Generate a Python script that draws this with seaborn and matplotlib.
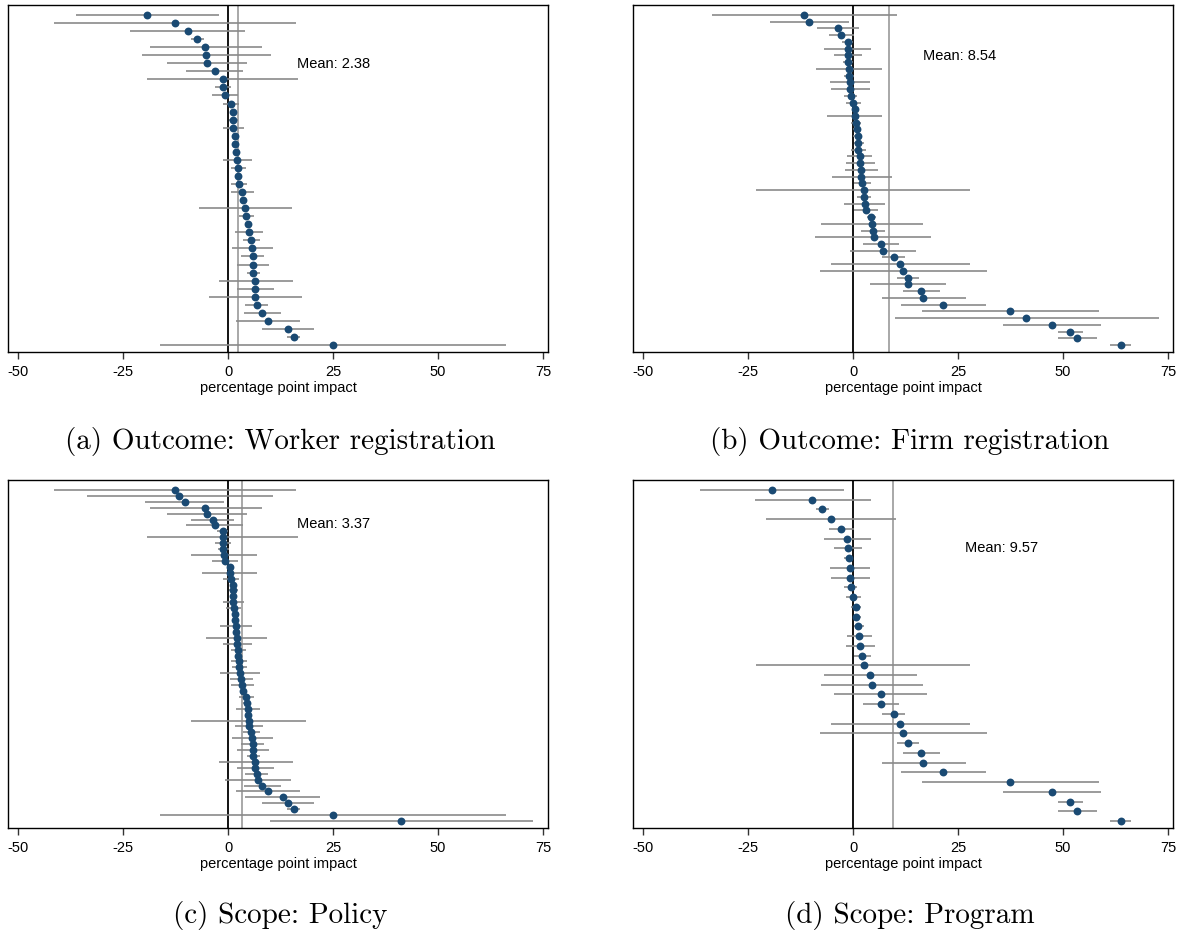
import numpy as np
import pandas as pd
import matplotlib
matplotlib.use("Agg")
import matplotlib.pyplot as plt
import seaborn as sns

# Panel (a): Outcome - worker registration
a_est = [-19.3, -12.7, -9.6, -7.3, -5.4, -5.3, -4.9, -3.1, -1.3, -1.2, -0.7, 0.7, 1.1, 1.2,
         1.3, 1.7, 1.7, 2.0, 2.1, 2.4, 2.4, 2.5, 3.4, 3.6, 4.1, 4.3, 4.8, 5.0, 5.5, 5.7,
         5.9, 6.0, 6.0, 6.5, 6.5, 6.5, 6.9, 8.1, 9.5, 14.2, 15.6, 25.1]
a_lo = [-36.3, -41.5, -23.3, -8.8, -18.7, -20.6, -14.5, -10.0, -19.3, -3.1, -3.9, -1.2, 0.5, 0.2,
        -1.2, 1.0, 1.2, 1.5, -1.3, 0.7, 1.9, 0.7, 0.7, 3.0, -7.0, 2.6, 4.0, 1.7, 3.6, 0.9,
        3.2, 2.2, 4.6, -2.2, 2.2, -4.6, 4.1, 3.7, 1.8, 8.1, 14.1, -16.1]
a_hi = [-2.2, 16.1, 4.1, -5.7, 8.1, 10.3, 4.6, 3.6, 16.7, 0.7, 2.4, 2.5, 1.8, 2.3,
        3.9, 2.3, 2.2, 2.5, 5.7, 4.2, 2.9, 4.5, 6.1, 4.2, 15.2, 6.3, 5.7, 8.4, 7.7, 10.6,
        8.5, 9.8, 7.6, 15.4, 11.0, 17.7, 9.5, 12.7, 17.2, 20.5, 17.2, 66.2]

# Panel (b): Outcome - firm registration
b_est = [-11.6, -10.4, -3.6, -2.8, -1.3, -1.3, -1.2, -1.1, -1.0, -1.0, -0.7, -0.7, -0.6, 0.0,
         0.4, 0.5, 0.7, 0.9, 1.1, 1.2, 1.3, 1.6, 1.7, 1.8, 2.0, 2.2, 2.5, 2.6, 2.8, 3.2,
         4.3, 4.4, 4.7, 4.9, 6.6, 7.1, 9.7, 11.3, 12.0, 13.1, 13.1, 16.3, 16.7, 21.5, 37.4,
         41.3, 47.3, 51.7, 53.3, 63.8]
b_lo = [-33.7, -19.8, -8.6, -5.8, -2.6, -7.0, -4.6, -2.3, -8.8, -2.1, -5.4, -5.2, -2.1, -1.7,
        -0.3, -6.2, -0.4, 0.0, 0.0, 0.3, -0.6, -1.4, -1.7, -2.0, -5.1, 0.3, -23.0, 0.9, -2.1, 0.3,
        3.4, -7.7, 1.8, -9.0, 2.3, -0.7, 6.9, -5.2, -7.9, 10.5, 4.1, 11.9, 6.8, 11.4, 16.4,
        9.9, 35.6, 48.7, 48.8, 61.3]
b_hi = [10.5, -0.9, 1.5, 0.2, -0.1, 4.2, 2.2, 0.1, 6.8, 0.3, 4.0, 4.1, 0.9, 1.8,
        1.2, 7.0, 2.0, 1.8, 2.1, 2.7, 3.2, 4.6, 5.3, 5.9, 9.3, 4.3, 27.9, 4.2, 7.7, 5.9,
        5.5, 16.7, 7.7, 18.5, 10.9, 14.9, 12.4, 27.8, 31.8, 15.7, 22.1, 20.8, 26.8, 31.6, 58.5,
        72.8, 59.0, 54.7, 58.0, 66.3]

# Panel (c): Scope - policy
c_est = [-12.7, -11.6, -10.3, -5.4, -4.9, -3.6, -3.1, -1.3, -1.3, -1.2, -1.1, -1.0, -0.7, 0.4,
         0.5, 0.7, 1.1, 1.2, 1.2, 1.3, 1.4, 1.7, 1.7, 1.9, 2.0, 2.1, 2.2, 2.4, 2.4, 2.5,
         2.6, 2.8, 3.1, 3.4, 3.6, 4.3, 4.4, 4.7, 4.8, 4.9, 5.0, 5.5, 5.7, 5.9, 6.0, 6.0,
         6.5, 6.5, 6.8, 7.2, 8.1, 9.5, 13.0, 14.2, 15.6, 25.1, 41.2]
c_lo = [-41.5, -33.6, -19.8, -18.7, -14.5, -8.7, -10.0, -2.6, -19.3, -3.1, -2.3, -8.8, -3.9, -0.3,
        -6.2, -1.2, 0.5, 0.2, 0.4, -1.2, -0.6, 1.0, 1.2, -2.0, 1.5, -5.2, -1.3, 0.7, 1.9, 0.7,
        0.9, -2.0, 0.5, 0.7, 3.0, 2.6, 3.5, 1.8, 4.0, -8.8, 1.7, 3.6, 0.9, 3.2, 2.2, 4.6,
        -2.2, 2.2, 4.1, -0.7, 3.7, 1.8, 4.1, 8.1, 14.1, -16.1, 9.9]
c_hi = [16.1, 10.6, -1.0, 8.1, 4.6, 1.5, 3.6, -0.1, 16.7, 0.7, 0.2, 6.9, 2.4, 1.2,
        7.0, 2.5, 1.8, 2.3, 2.1, 3.9, 3.2, 2.3, 2.2, 5.8, 2.5, 9.3, 5.7, 4.2, 2.9, 4.5,
        4.4, 7.7, 5.9, 6.1, 4.2, 6.3, 5.5, 7.7, 5.7, 18.5, 8.4, 7.7, 10.6, 8.5, 9.8, 7.6,
        15.4, 11.0, 9.5, 15.0, 12.7, 17.2, 22.0, 20.5, 17.2, 66.2, 72.7]

# Panel (d): Scope - program
d_est = [-19.3, -9.7, -7.4, -5.3, -2.8, -1.4, -1.2, -1.0, -0.7, -0.7, -0.6, 0.0, 0.7, 0.8,
         1.2, 1.5, 1.7, 2.2, 2.5, 4.1, 4.5, 6.6, 6.6, 9.7, 11.3, 12.0, 13.1, 16.3, 16.7,
         21.5, 37.4, 47.3, 51.7, 53.3, 63.8]
d_lo = [-36.4, -23.4, -8.9, -20.7, -5.8, -7.0, -4.6, -2.1, -5.4, -5.2, -2.1, -1.7, -0.4, 0.0,
        0.3, -1.4, -1.7, 0.3, -23.0, -7.0, -7.7, -4.6, 2.3, 6.9, -5.2, -7.9, 10.5, 11.9, 6.8,
        11.4, 16.4, 35.6, 48.7, 48.8, 61.3]
d_hi = [-2.1, 4.2, -5.7, 10.3, 0.2, 4.2, 2.2, 0.1, 4.0, 4.1, 0.9, 1.8, 2.0, 1.8,
        2.7, 4.6, 5.3, 4.3, 27.9, 15.3, 16.7, 17.7, 10.9, 12.4, 27.8, 31.8, 15.7, 20.8, 26.8,
        31.6, 58.5, 59.0, 54.7, 58.0, 66.3]

means = [2.38, 8.54, 3.37, 9.57]
mean_labels = ["Mean: 2.38", "Mean: 8.54", "Mean: 3.37", "Mean: 9.57"]
mean_text_pos = [(0.535, 0.83), (0.537, 0.853), (0.535, 0.874), (0.615, 0.805)]
captions = ["(a) Outcome: Worker registration", "(b) Outcome: Firm registration",
            "(c) Scope: Policy", "(d) Scope: Program"]
xticks = [-50, -25, 0, 25, 50, 75]
xtick_labels = ["-50", "-25", "0", "25", "50", "75"]

panels = [(a_est, a_lo, a_hi), (b_est, b_lo, b_hi), (c_est, c_lo, c_hi), (d_est, d_lo, d_hi)]

sns.set_style("white")
plt.rcParams['font.family'] = ['Liberation Sans', 'DejaVu Sans']
plt.rcParams['axes.unicode_minus'] = False
plt.rcParams['text.color'] = 'black'
plt.rcParams['axes.labelcolor'] = 'black'
plt.rcParams['xtick.color'] = 'black'

fig = plt.figure(figsize=(11.83, 9.36), dpi=100)

W, H = 1183, 936
# axes boxes in pixels: left, top, right, bottom
boxes = [(8, 5, 548, 352), (633, 5, 1173, 352), (8, 480, 548, 828), (633, 480, 1173, 828)]
caption_xy = [(280, 442), (910, 442), (280, 916), (910, 916)]

dot_color = "#1a4a73"
ci_color = "#8a8a8a"

for i, (est, lo, hi) in enumerate(panels):
    l, t, r, b = boxes[i]
    ax = fig.add_axes([l / W, 1 - b / H, (r - l) / W, (b - t) / H])
    n = len(est)
    df = pd.DataFrame({"est": est, "lo": lo, "hi": hi, "row": np.arange(1, n + 1)})

    ax.hlines(df["row"], df["lo"], df["hi"], color=ci_color, lw=1.2, zorder=2)
    ax.axvline(0, color="black", lw=1.3, zorder=1)
    ax.axvline(means[i], color="#9a9a9a", lw=1.2, zorder=1)
    sns.scatterplot(data=df, x="est", y="row", ax=ax, color=dot_color, s=32,
                    edgecolor=dot_color, linewidth=0, zorder=3, legend=False)

    # rows span from ~10px below the top to ~7px above the bottom
    spacing = (b - t - 17) / (n - 1)
    ax.set_ylim(n + 7 / spacing, 1 - 10 / spacing)
    ax.set_xlim(-52.4, 76.2)
    ax.set_yticks([])
    ax.set_ylabel("")
    ax.set_xticks(xticks)
    ax.set_xticklabels(xtick_labels, fontsize=10.5)
    ax.tick_params(axis="x", direction="out", length=5, width=1, pad=4, bottom=True,
                   color="#333333")
    ax.set_xlabel("percentage point impact", fontsize=10.5, labelpad=2)
    for sp in ax.spines.values():
        sp.set_color("black")
        sp.set_linewidth(1.0)

    ax.text(mean_text_pos[i][0], mean_text_pos[i][1], mean_labels[i], transform=ax.transAxes,
            fontsize=10.5, ha="left", va="center")

    cx, cy = caption_xy[i]
    fig.text(cx / W, 1 - cy / H, captions[i], family="cmr10", fontsize=21,
             ha="center", va="center")

fig.savefig("out.png", dpi=100)
